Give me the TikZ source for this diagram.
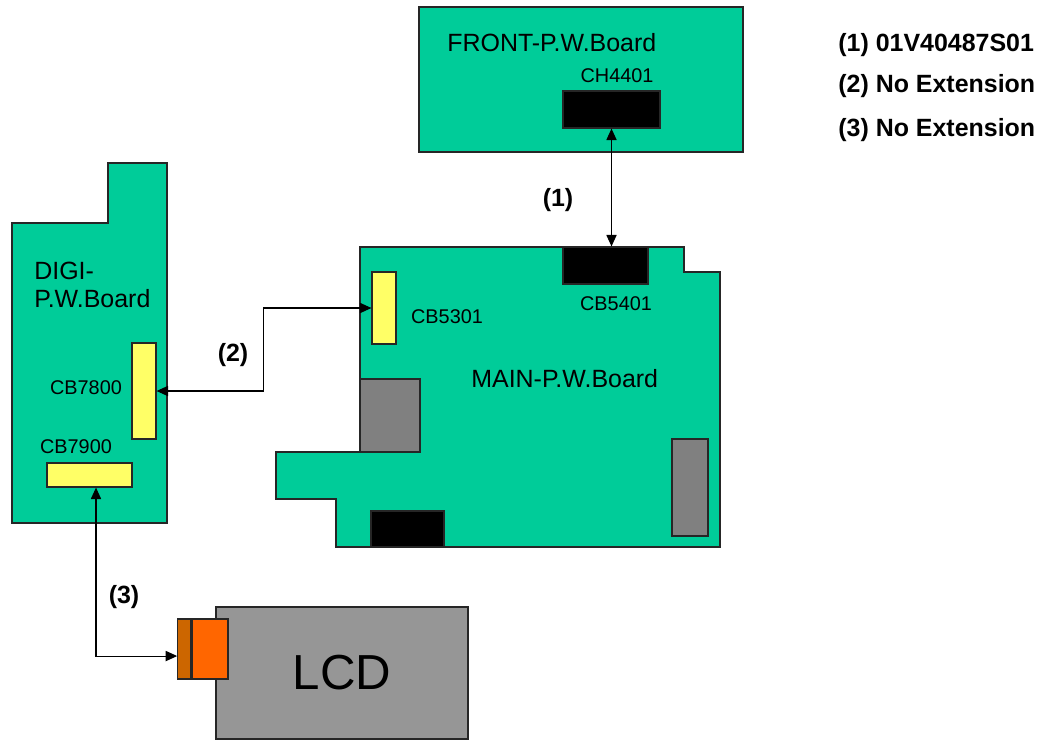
\documentclass[tikz,border=0pt]{standalone}
\usepackage{fontspec}
\setmainfont{Liberation Sans}
\usetikzlibrary{arrows.meta, positioning}
\definecolor{BoardGreen}{HTML}{00CC99}
\definecolor{PlugYellow}{HTML}{FFFF66}
\definecolor{PartGray}{HTML}{808080}
\definecolor{LcdGray}{HTML}{969696}
\definecolor{PlugOrange}{HTML}{FF6600}
\definecolor{PlugDark}{HTML}{CC6600}

\tikzset{
  board/.style={draw=black!85, line width=0.8pt, fill=BoardGreen},
  plug/.style={draw=black!85, line width=0.7pt, inner sep=0pt},
  boardtext/.style={font=\fontsize{14.2}{16}\selectfont, anchor=west, inner sep=0pt, align=left},
  plugtext/.style={font=\fontsize{11.3}{13}\selectfont, inner sep=0pt},
  cable/.style={{Triangle[length=6.5pt,width=5.8pt]}-{Triangle[length=6.5pt,width=5.8pt]}, line width=0.6pt},
  cabletext/.style={font=\bfseries\fontsize{14.2}{16}\selectfont, inner sep=0pt},
}

\begin{document}
\begin{tikzpicture}[x=0.02cm, y=-0.02cm]
  \useasboundingbox (0,0) rectangle (1043,741);

  % boards
  \draw[board] (419,7) rectangle (743,152);
  \draw[board] (360,247) -- (684,247) -- (684,272) -- (720,272) -- (720,547) -- (336,547)
    -- (336,499) -- (276,499) -- (276,452) -- (360,452) -- cycle;
  \draw[board] (12,223) -- (108,223) -- (108,163) -- (167,163) -- (167,523) -- (12,523) -- cycle;

  % board names
  \node[boardtext] (fronttxt) at (447,43) {FRONT-P.W.Board};
  \node[boardtext] (maintxt) at (471,379) {MAIN-P.W.Board};
  \node[boardtext] (digitxt) at (34,285) {DIGI-\\P.W.Board};

  % connectors
  \node[plug, fill=black, minimum width=1.94cm, minimum height=0.74cm] (ch4401) at (611.5,109.5) {};
  \node[plug, fill=black, minimum width=1.70cm, minimum height=0.74cm] (cb5401) at (605.5,265.5) {};
  \node[plug, fill=PlugYellow, minimum width=0.48cm, minimum height=1.44cm] (cb5301) at (384,308) {};
  \node[plug, fill=PartGray, minimum width=1.20cm, minimum height=1.46cm] (blockL) at (390,415.5) {};
  \node[plug, fill=PartGray, minimum width=0.72cm, minimum height=1.94cm] (blockR) at (690,487.5) {};
  \node[plug, fill=black, minimum width=1.46cm, minimum height=0.72cm] (blockB) at (407.5,529) {};
  \node[plug, fill=PlugYellow, minimum width=0.48cm, minimum height=1.92cm] (cb7800) at (144,391) {};
  \node[plug, fill=PlugYellow, minimum width=1.70cm, minimum height=0.48cm] (cb7900) at (89.5,475) {};

  \node[plugtext] (ch4401txt) at (617,76) {CH4401};
  \node[plugtext] (cb5401txt) at (616,304) {CB5401};
  \node[plugtext] (cb5301txt) at (447,317) {CB5301};
  \node[plugtext] (cb7800txt) at (86,388) {CB7800};
  \node[plugtext] (cb7900txt) at (76,447) {CB7900};

  % LCD
  \node[plug, fill=LcdGray, minimum width=5.04cm, minimum height=2.64cm,
        font=\fontsize{28}{30}\selectfont] (lcd) at (342,673) {LCD};
  \node[plug, fill=PlugOrange, minimum width=0.72cm, minimum height=1.20cm] (lcdcon) at (210,649) {};
  \node[plug, fill=PlugDark, minimum width=0.26cm, minimum height=1.20cm, left=0pt of lcdcon] (lcdtab) {};

  % cables
  \draw[cable] (ch4401.south) -- (ch4401.south |- cb5401.north);
  \draw[cable] (cb5301.west) -- ++(-108,0) |- (cb7800.east);
  \draw[cable] ([xshift=3.7pt]cb7900.south) |- ([yshift=-4pt]lcdtab.west);

  \node[cabletext] (n1) at (558,200) {(1)};
  \node[cabletext] (n2) at (233,355) {(2)};
  \node[cabletext] (n3) at (124,597) {(3)};

  % legend
  \node[cabletext, anchor=west] (leg1) at (838,45) {(1) 01V40487S01};
  \node[cabletext, anchor=west] (leg2) at (838,86) {(2) No Extension};
  \node[cabletext, anchor=west] (leg3) at (838,130) {(3) No Extension};
\end{tikzpicture}
\end{document}
